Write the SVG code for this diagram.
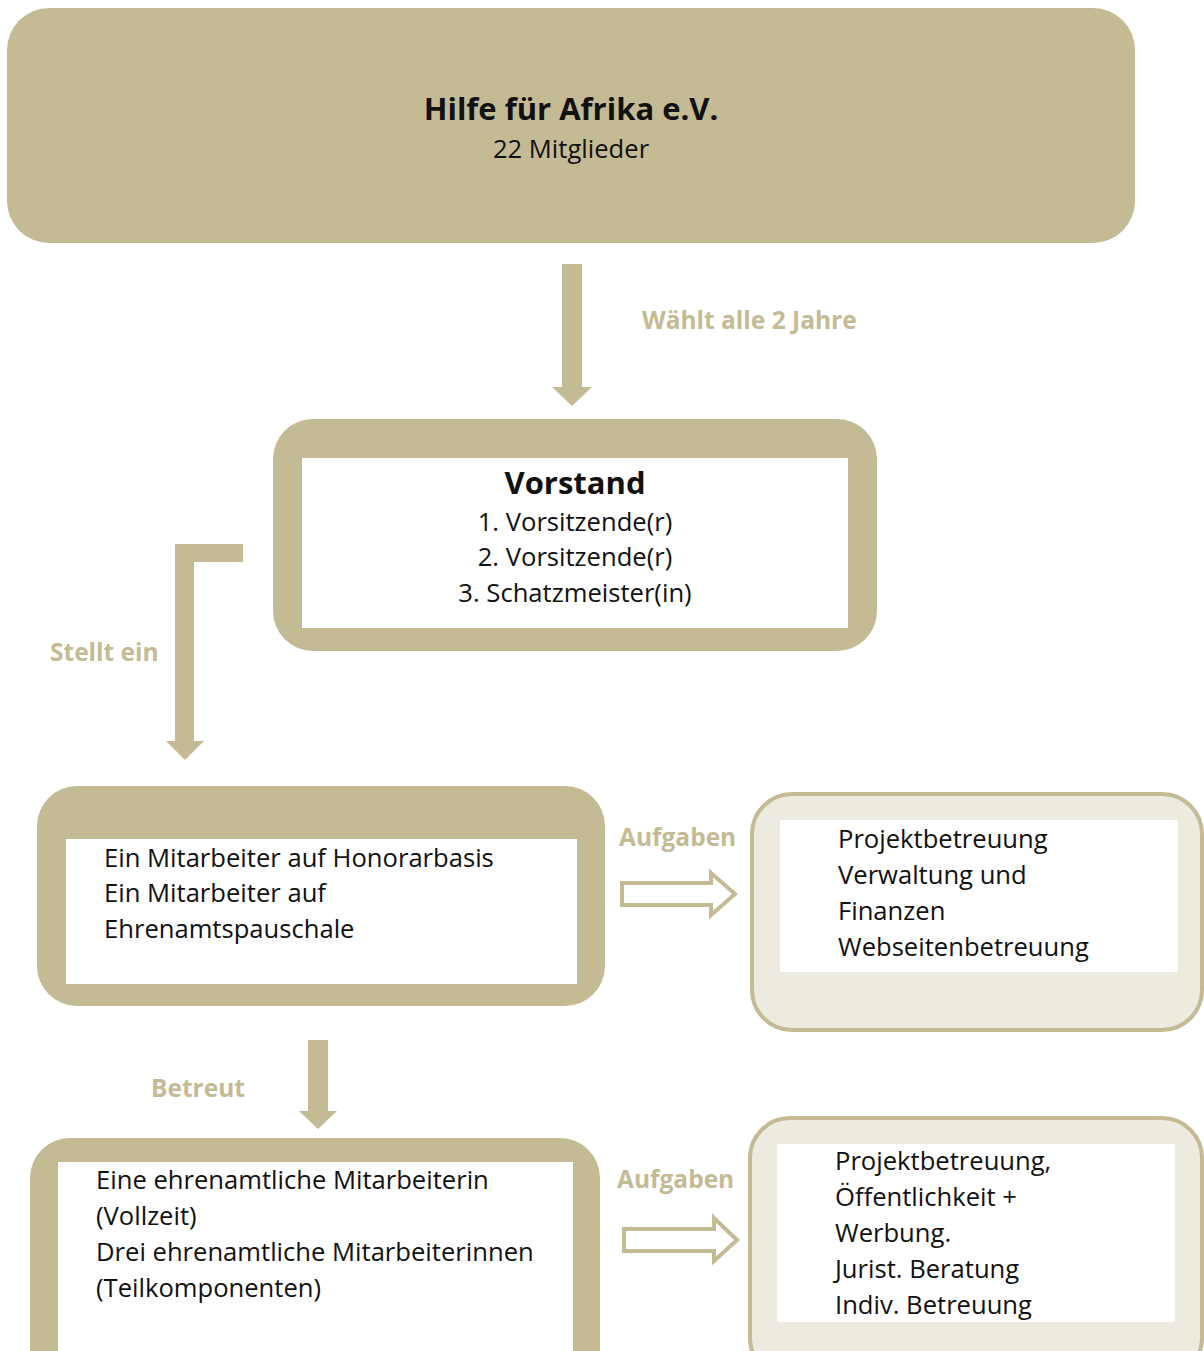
<svg xmlns="http://www.w3.org/2000/svg" width="1204" height="1351" viewBox="0 0 1204 1351">
<style>
.tan{fill:#C4BB94}
.light{fill:#EDEADF;stroke:#C4BB94;stroke-width:4}
.white{fill:#FFFFFF}
.t{font-family:"Open Sans","Liberation Sans",sans-serif;font-size:25.6px;fill:#111111}
.lbl{font-family:"Open Sans","Liberation Sans",sans-serif;font-size:24.5px;font-weight:bold;fill:#C4BB94}
.hollow{fill:#FFFFFF;stroke:#C4BB94;stroke-width:4;stroke-linejoin:miter}
</style>
<rect width="1204" height="1351" fill="#FFFFFF"/>
<g id="node-verein">
<rect class="tan" x="7" y="8" width="1128" height="235" rx="42"/>
<text class="t" x="571" y="120" text-anchor="middle" style="font-size:31px;font-weight:bold">Hilfe für Afrika e.V.</text>
<text class="t" x="571" y="158" text-anchor="middle">22 Mitglieder</text>
</g>
<g id="node-vorstand">
<rect class="tan" x="273" y="419" width="604" height="232" rx="40"/>
<rect class="white" x="302" y="458" width="546" height="170"/>
<text class="t" x="575" y="494" text-anchor="middle" style="font-size:31px;font-weight:bold">Vorstand</text>
<text class="t" x="575" y="531" text-anchor="middle">1. Vorsitzende(r)</text>
<text class="t" x="575" y="566" text-anchor="middle">2. Vorsitzende(r)</text>
<text class="t" x="575" y="602" text-anchor="middle">3. Schatzmeister(in)</text>
</g>
<g id="node-mitarbeiter">
<rect class="tan" x="37" y="786" width="568" height="220" rx="40"/>
<rect class="white" x="66" y="839" width="511" height="145"/>
<text class="t" x="104" y="867">Ein Mitarbeiter auf Honorarbasis</text>
<text class="t" x="104" y="902">Ein Mitarbeiter auf</text>
<text class="t" x="104" y="938">Ehrenamtspauschale</text>
</g>
<g id="node-aufgaben1">
<rect class="light" x="752" y="794" width="450" height="236" rx="40"/>
<rect class="white" x="780" y="820" width="398" height="152"/>
<text class="t" x="838" y="848">Projektbetreuung</text>
<text class="t" x="838" y="884">Verwaltung und</text>
<text class="t" x="838" y="920">Finanzen</text>
<text class="t" x="838" y="956">Webseitenbetreuung</text>
</g>
<g id="node-ehrenamt">
<rect class="tan" x="30" y="1138" width="570" height="260" rx="40"/>
<rect class="white" x="58" y="1162" width="515" height="200"/>
<text class="t" x="96" y="1189">Eine ehrenamtliche Mitarbeiterin</text>
<text class="t" x="96" y="1225">(Vollzeit)</text>
<text class="t" x="96" y="1261">Drei ehrenamtliche Mitarbeiterinnen</text>
<text class="t" x="96" y="1297">(Teilkomponenten)</text>
</g>
<g id="node-aufgaben2">
<rect class="light" x="750" y="1118" width="452" height="260" rx="40"/>
<rect class="white" x="777" y="1144" width="398" height="178"/>
<text class="t" x="835" y="1170">Projektbetreuung,</text>
<text class="t" x="835" y="1206">Öffentlichkeit +</text>
<text class="t" x="835" y="1242">Werbung.</text>
<text class="t" x="835" y="1278">Jurist. Beratung</text>
<text class="t" x="835" y="1314">Indiv. Betreuung</text>
</g>
<g id="connectors">
<polygon class="tan" points="562,264 582,264 582,387 592,387 572,406 552,387 562,387"/>
<text class="lbl" x="642" y="329">Wählt alle 2 Jahre</text>
<polygon class="tan" points="243,544 243,562 194,562 194,741 204,741 185,760 166,741 175,741 175,544"/>
<text class="lbl" x="50" y="661">Stellt ein</text>
<text class="lbl" x="619" y="846">Aufgaben</text>
<polygon class="hollow" points="622,883 711,883 711,873 735,894 711,915 711,905 622,905"/>
<polygon class="tan" points="308,1040 328,1040 328,1111 337,1111 318,1129 299,1111 308,1111"/>
<text class="lbl" x="151" y="1097">Betreut</text>
<text class="lbl" x="617" y="1188">Aufgaben</text>
<polygon class="hollow" points="624,1229 714,1229 714,1218 737,1240 714,1261 714,1251 624,1251"/>
</g>
</svg>
